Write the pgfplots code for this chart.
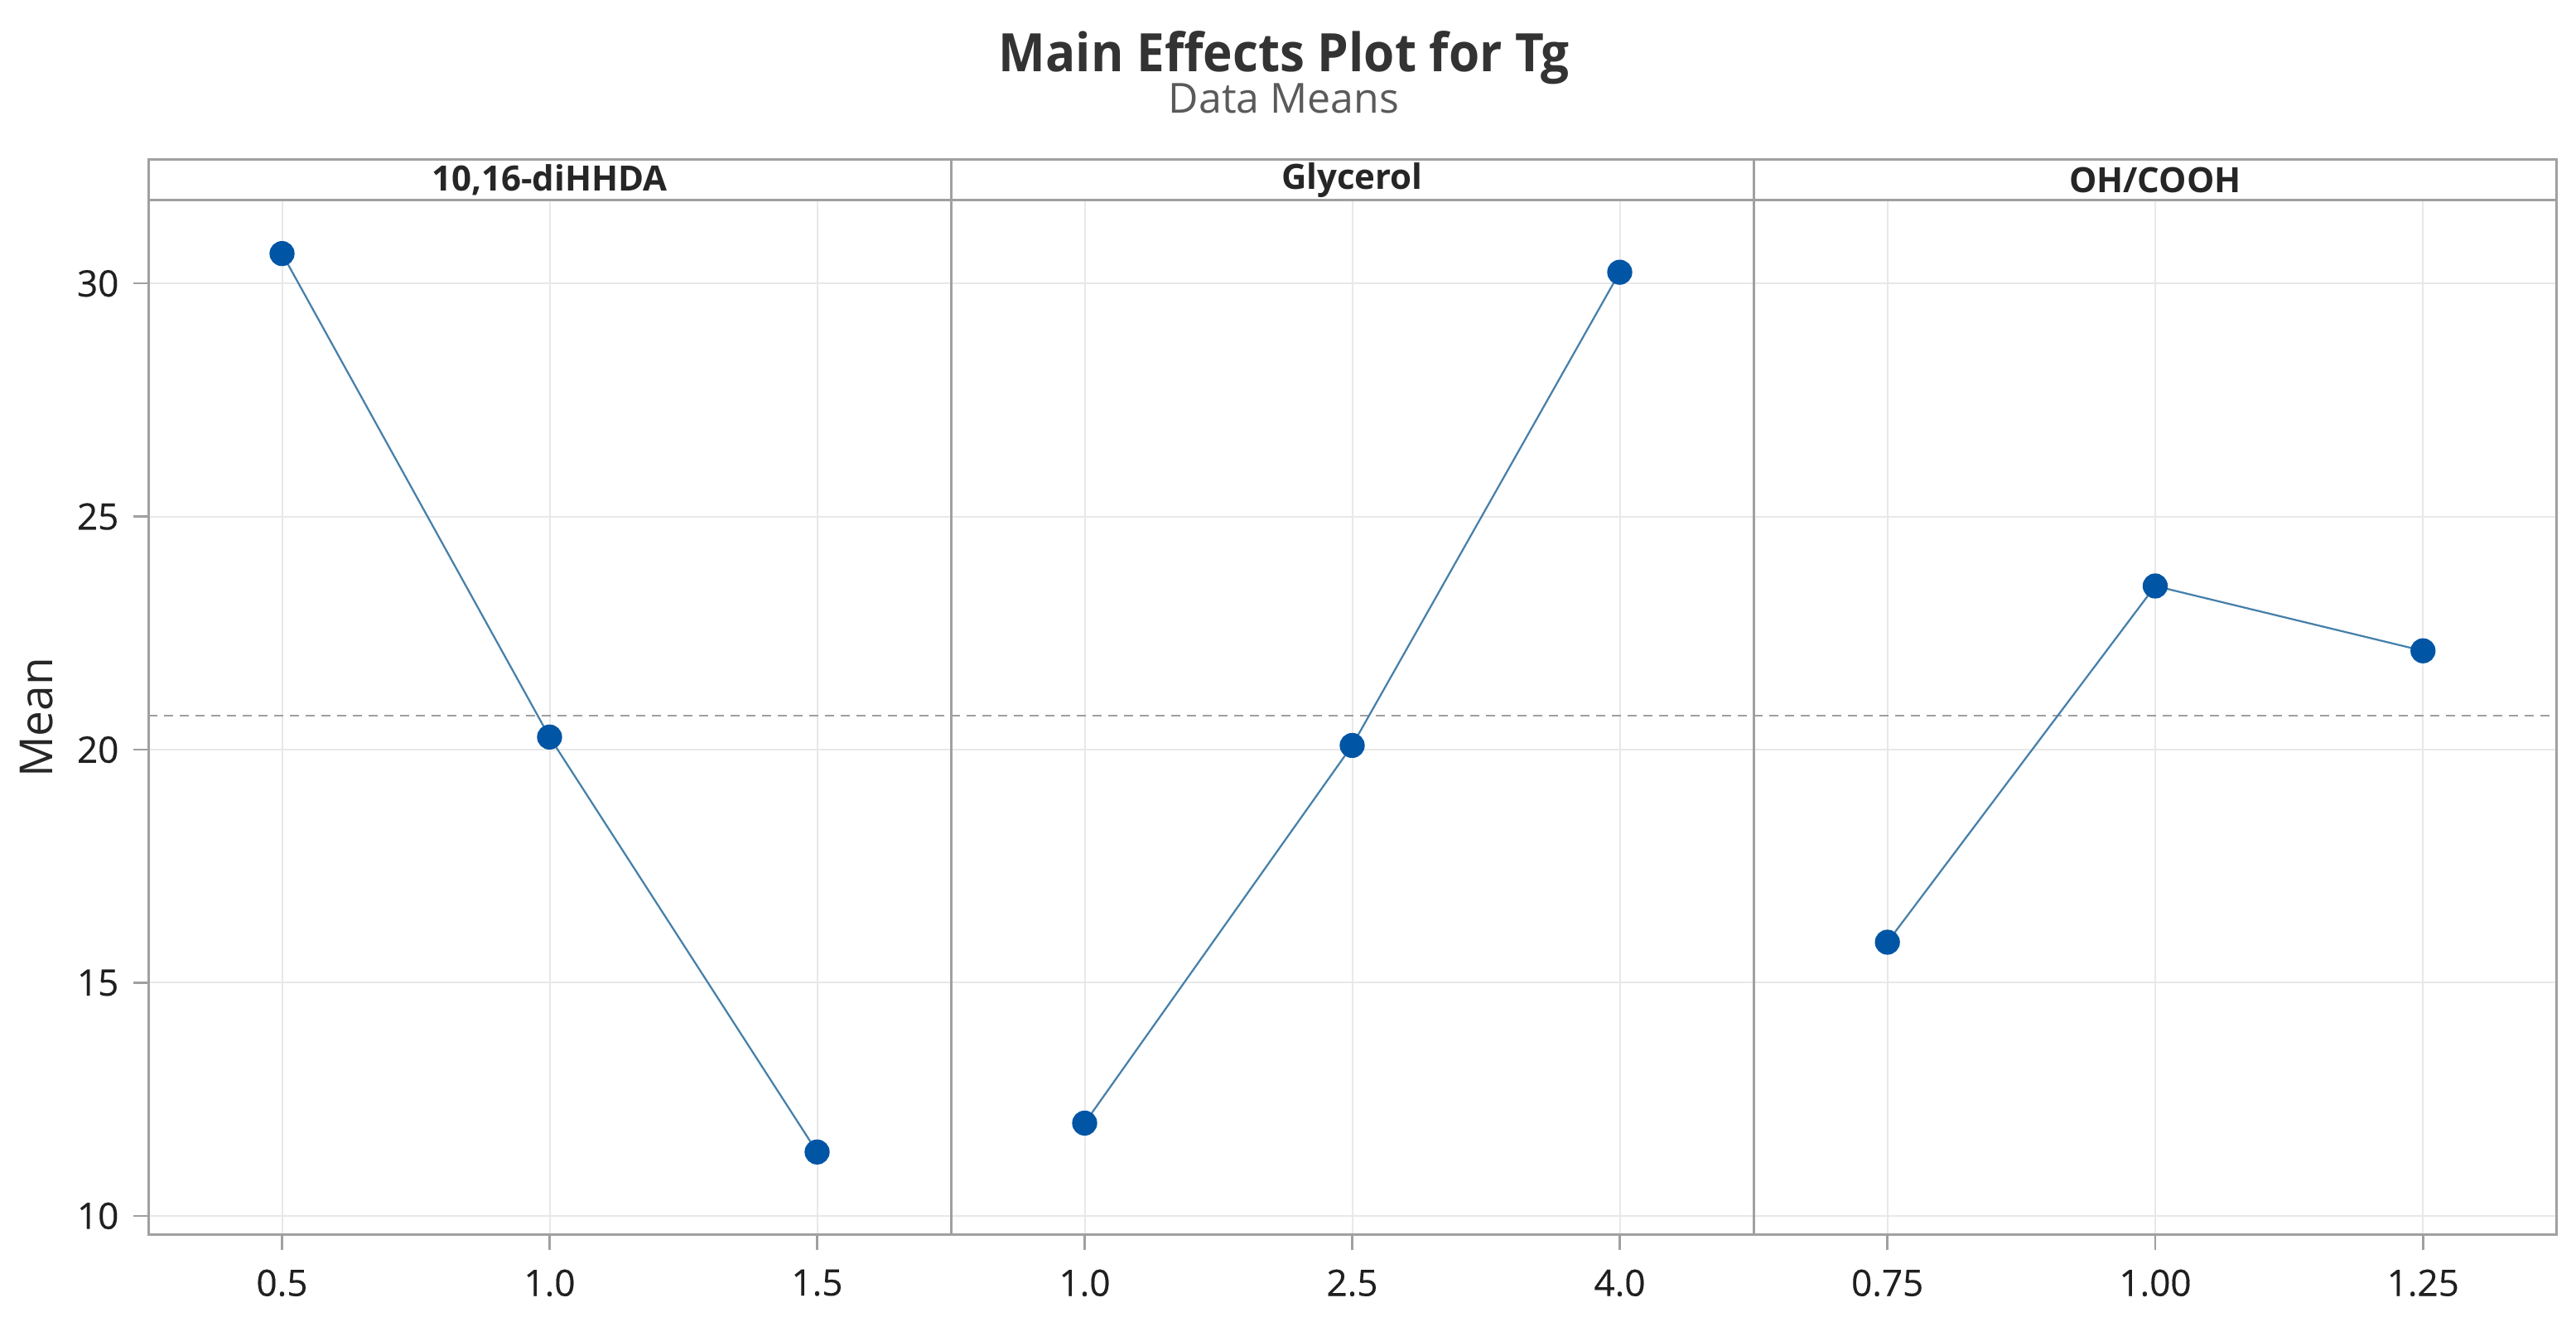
\documentclass[border=0pt]{standalone}
\usepackage{pgfplots}
\pgfplotsset{compat=1.18}
\usepackage{fontspec}
\setmainfont{Open Sans}
\newfontfamily\tickfont[FakeBold=0.3]{Open Sans}
\newfontfamily\titlefont[FakeStretch=0.94]{Open Sans}
\definecolor{frame}{HTML}{A0A0A0}
\definecolor{gridc}{HTML}{E8E8E8}
\definecolor{linec}{HTML}{4680AA}
\definecolor{markc}{HTML}{0055A5}
\definecolor{titlec}{HTML}{333333}
\definecolor{subc}{HTML}{5A5A5A}
\pgfplotsset{
  panel/.style={
    scale only axis, width=193.8pt, height=249.8pt, anchor=south west,
    ymin=9.59, ymax=31.78, ytick={10,15,20,25,30},
    grid=major, major grid style={gridc, line width=0.4pt},
    axis line style={frame, line width=0.6pt},
    tick style={frame, line width=0.5pt},
    tick align=outside, major tick length=3.6pt,
    xtick pos=bottom, ytick pos=left,
    tick label style={font=\tickfont\fontsize{8.8}{9}\selectfont, text=black!88},
    /pgf/number format/assume math mode=true,
    xticklabel style={yshift=-1.2pt},
    clip=false,
  },
  effect/.style={linec, line width=0.45pt, mark=*, mark size=2.8pt,
    mark options={draw=markc, fill=markc}},
  meanl/.style={gray!75, line width=0.4pt, dash pattern=on 2.2pt off 1.6pt},
}
\newcommand{\strip}[1]{%
  \draw[frame, line width=0.6pt] (rel axis cs:0,1) rectangle ([yshift=9.8pt]rel axis cs:1,1);
  \node[font=\fontsize{8.4}{9}\selectfont\bfseries, text=black!85] at ([yshift=4.9pt]rel axis cs:0.5,1) {#1};
}
\begin{document}
\begin{tikzpicture}
\useasboundingbox (0,0) rectangle (622pt,318pt);
\node[font=\titlefont\fontsize{12.8}{14}\selectfont\bfseries, text=titlec, anchor=base] at (310pt,300.6pt) {Main Effects Plot for Tg};
\node[font=\fontsize{10}{11}\selectfont, text=subc, anchor=base] at (310pt,290.6pt) {Data Means};
% panel 1
\begin{axis}[panel, at={(35.8pt,19.8pt)},
  xmin=0.25, xmax=1.75, xtick={0.5,1.0,1.5},
  xticklabels={0.5,1.0,1.5},
  ylabel={Mean}, ylabel style={font=\fontsize{11}{12}\selectfont, text=black!85},
  ylabel shift=-1pt]
\addplot[meanl, forget plot] coordinates {(0.25,20.73) (1.75,20.73)};
\addplot[effect] coordinates {(0.5,30.64) (1.0,20.27) (1.5,11.37)};
\strip{10,16-diHHDA}
\end{axis}
% panel 2
\begin{axis}[panel, at={(229.6pt,19.8pt)},
  xmin=0.25, xmax=4.75, xtick={1.0,2.5,4.0},
  xticklabels={1.0,2.5,4.0},
  yticklabels={}, ytick style={draw=none}]
\addplot[meanl, forget plot] coordinates {(0.25,20.73) (4.75,20.73)};
\addplot[effect] coordinates {(1.0,11.99) (2.5,20.09) (4.0,30.24)};
\strip{Glycerol}
\end{axis}
% panel 3
\begin{axis}[panel, at={(423.4pt,19.8pt)}, width=194pt,
  xmin=0.625, xmax=1.375, xtick={0.75,1.00,1.25},
  xticklabels={0.75,1.00,1.25},
  yticklabels={}, ytick style={draw=none}]
\addplot[meanl, forget plot] coordinates {(0.625,20.73) (1.375,20.73)};
\addplot[effect] coordinates {(0.75,15.87) (1.00,23.51) (1.25,22.12)};
\strip{OH/COOH}
\end{axis}
\end{tikzpicture}
\end{document}
